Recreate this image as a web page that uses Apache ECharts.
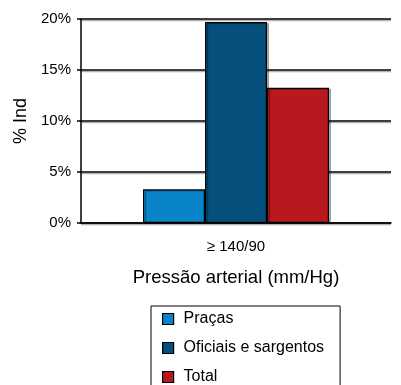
<!DOCTYPE html>
<html><head><meta charset="utf-8">
<script src="https://cdn.jsdelivr.net/npm/echarts@6/dist/echarts.min.js"></script>
<style>html,body{margin:0;padding:0;background:#fff}#c{width:401px;height:385px}</style>
</head><body><div id="c"></div>
<script>
var categories = ['\u2265 140/90'];
var seriesNames = ['Praças', 'Oficiais e sargentos', 'Total'];
var pracas = [3.3];
var oficiais = [19.7];
var total = [13.25];
var yTicks = [0, 5, 10, 15, 20];
var colors = ['#0a84c9', '#044f7c', '#b8191e'];
var F = '"Liberation Sans", Arial, sans-serif';
var values = [pracas, oficiais, total];
var chart = echarts.init(document.getElementById('c'), null, {renderer: 'canvas'});
chart.setOption({
  animation: false,
  color: colors,
  grid: {left: 81, right: 10, top: 19, bottom: 162},
  legend: {
    orient: 'vertical', left: 151, top: 306, height: 200,
    padding: [5, 16, 30, 11],
    itemWidth: 11, itemHeight: 11, itemGap: 13,
    borderColor: '#000', borderWidth: 1,
    textStyle: {fontFamily: F, fontSize: 16, color: '#000', padding: [0, 0, 0, 5]},
    icon: 'rect',
    itemStyle: {borderColor: '#000', borderWidth: 1.2},
    data: seriesNames
  },
  xAxis: {
    type: 'category', data: categories,
    name: 'Pressão arterial (mm/Hg)', nameLocation: 'middle', nameGap: 45,
    nameTextStyle: {fontFamily: F, fontSize: 18.5, color: '#000'},
    axisLine: {lineStyle: {color: '#000', width: 1.5}},
    axisTick: {show: false},
    axisLabel: {fontFamily: F, fontSize: 15, color: '#000', margin: 16}
  },
  yAxis: {
    type: 'value', min: 0, max: 20, interval: 5,
    name: '% Ind', nameLocation: 'middle', nameGap: 50,
    nameTextStyle: {fontFamily: F, fontSize: 18, color: '#000'},
    axisLine: {show: true, lineStyle: {color: '#000', width: 1.5}},
    axisTick: {show: true, length: 4, lineStyle: {color: '#000', width: 1.5}},
    axisLabel: {fontFamily: F, fontSize: 15, color: '#000', margin: 10,
      formatter: function (v) { return yTicks.indexOf(v) >= 0 ? v + '%' : ''; }},
    splitLine: {lineStyle: {color: '#000', width: 1.5, shadowColor: 'rgba(0,0,0,0.3)', shadowOffsetY: 1.5, shadowBlur: 0}}
  },
  series: seriesNames.map(function (n, i) {
    return {
      name: n, type: 'bar', data: values[i],
      barWidth: 62, barGap: '0%',
      itemStyle: {color: colors[i], borderColor: '#000', borderWidth: 1.2,
        shadowColor: 'rgba(0,0,0,0.3)', shadowOffsetX: 2, shadowOffsetY: 1, shadowBlur: 0}
    };
  })
});
</script></body></html>
